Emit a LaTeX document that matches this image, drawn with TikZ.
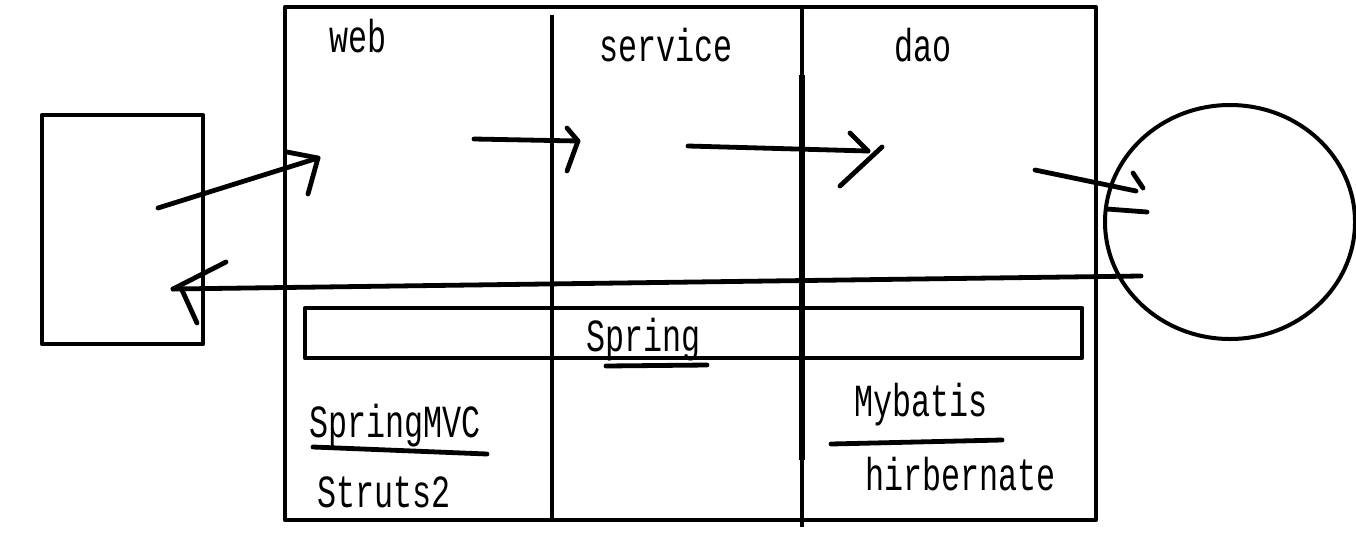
\documentclass[tikz,border=0pt]{standalone}
\usepackage{fontspec}
\setmainfont{Liberation Mono}[FakeStretch=0.69]
\begin{document}
\begin{tikzpicture}[x=1pt,y=-1pt,
  ln/.style={line width=4.8pt,line cap=round,line join=round},
  lbl/.style={anchor=base west,inner sep=0pt,font=\fontsize{46}{46}\selectfont}]
\useasboundingbox (0,0) rectangle (1356,555);
% client box
\draw[ln] (42,115) rectangle (203,344);
% main frame
\draw[ln,line cap=butt] (285,7) rectangle (1096,520);
\draw[ln,line cap=butt] (552,15) -- (552,520);
\draw[ln,line cap=butt] (802,7) -- (802,527);
\draw[line width=6.5pt] (802,75) -- (802,460);
% spring bar
\draw[ln,line cap=butt] (305,308) rectangle (1082,358);
% database
\draw[line width=4pt] (1230,222) ellipse [x radius=125,y radius=117];
% labels
\node[lbl] (web) at (329,52) {web};
\node[lbl] (service) at (599,61) {service};
\node[lbl] (dao) at (894,61) {dao};
\node[lbl] (spring) at (586,351) {Spring};
\node[lbl] (mvc) at (309,437) {SpringMVC};
\node[lbl] (struts) at (317,507) {Struts2};
\node[lbl] (mybatis) at (854,416) {Mybatis};
\node[lbl] (hib) at (865,490) {hirbernate};
% underlines
\draw[ln] (606,366) -- (707,365);
\draw[ln] (313,447) -- (487,454);
\draw[ln] (831,444) -- (1002,440);
% arrow client -> web
\coordinate (a1s) at (158,208);
\coordinate (a1e) at (318,158);
\draw[ln] (a1s) -- (a1e);
\draw[ln] (287,152) -- (a1e) -- (308,194);
% arrow web -> service
\coordinate (a2s) at (474,139);
\coordinate (a2e) at (578,141);
\draw[ln] (a2s) -- (a2e);
\draw[ln] (567,128) -- (a2e) -- (567,171);
% arrow service -> dao
\coordinate (a3s) at (688,146);
\coordinate (a3e) at (868,151);
\draw[ln] (a3s) -- (a3e);
\draw[ln] (850,133) -- (a3e);
\draw[ln] (882,147) -- (840,186);
% arrow dao -> db
\coordinate (a4s) at (1035,170);
\coordinate (a4e) at (1136,191);
\draw[ln] (a4s) -- (a4e);
\draw[ln] (1133,173) -- (1143,188);
\draw[ln] (1107,209) -- (1147,212);
% return arrow db -> client
\coordinate (r1s) at (1141,276);
\coordinate (r1e) at (173,289);
\draw[ln] (r1s) -- (r1e);
\draw[ln] (r1e) -- (226,262);
\draw[ln] (182,290) -- (197,323);
\end{tikzpicture}
\end{document}
